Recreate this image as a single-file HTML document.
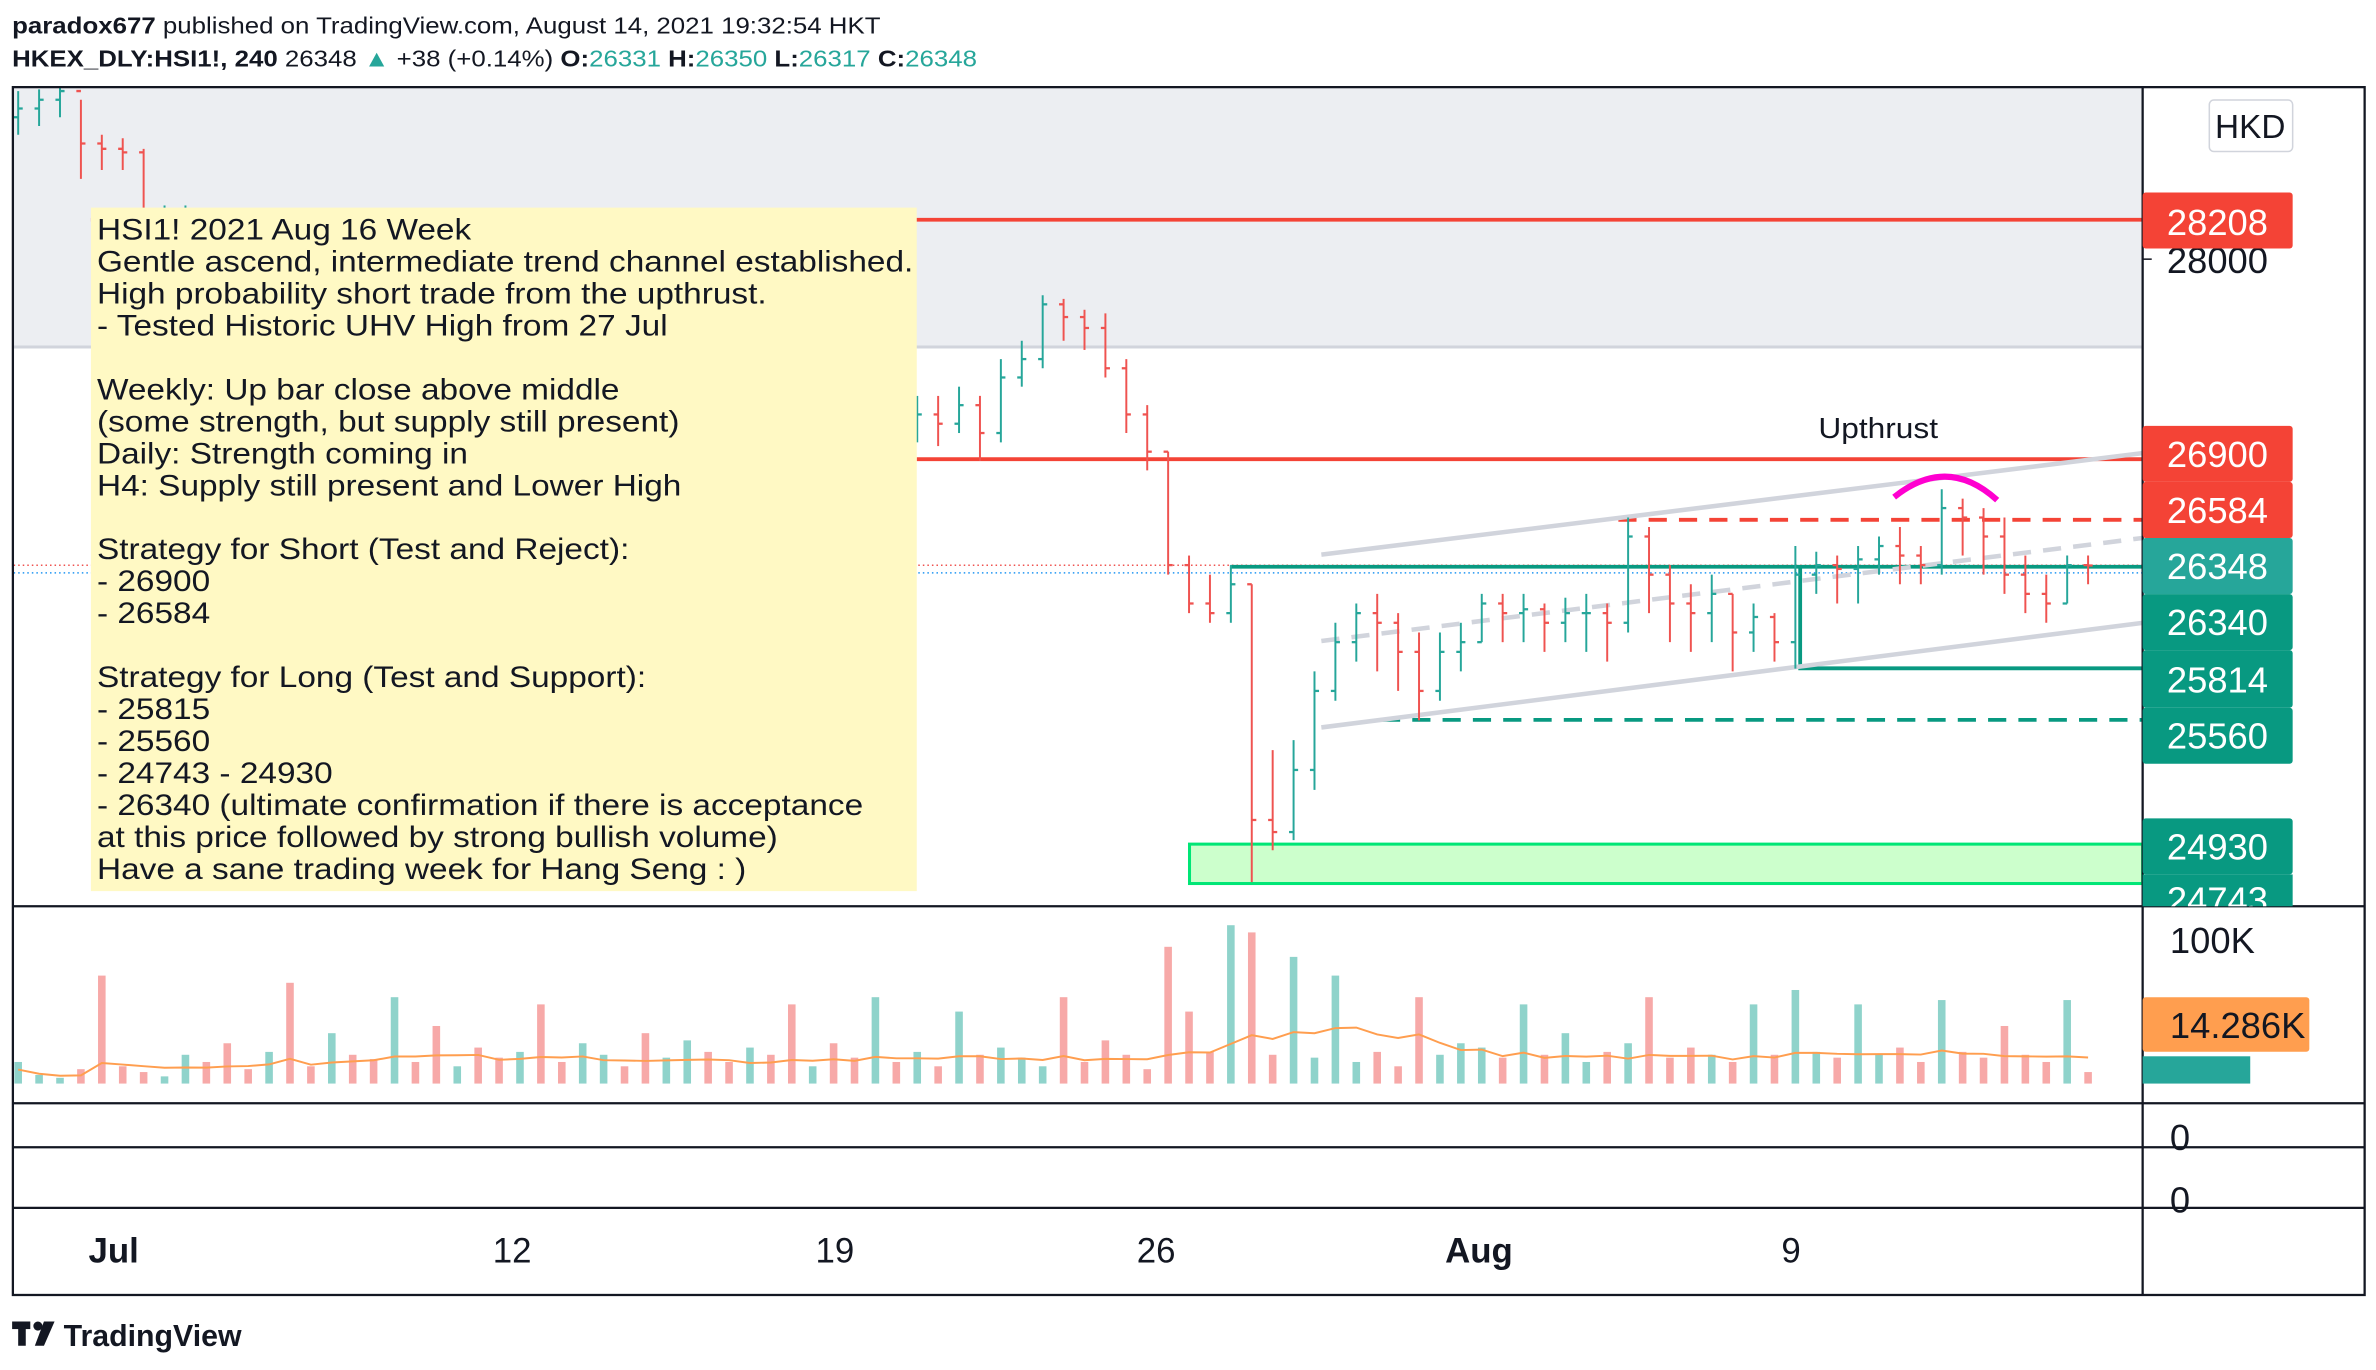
<!DOCTYPE html>
<html><head><meta charset="utf-8"><style>
html,body{margin:0;padding:0;background:#fff;}
svg{display:block;font-family:"Liberation Sans",sans-serif;}
</style></head><body>
<svg id="chart" width="2376" height="1370" viewBox="0 0 1568 904" preserveAspectRatio="none" xmlns="http://www.w3.org/2000/svg">
<rect x="0" y="0" width="1568" height="904" fill="#fff"/>
<g transform="translate(8,0) scale(1.1,1) translate(-8,0)">
<text x="8" y="22" font-size="15.5" fill="#131722"><tspan font-weight="bold">paradox677</tspan> published on TradingView.com, August 14, 2021 19:32:54 HKT</text>
<text x="8" y="44" font-size="15.5" fill="#131722"><tspan font-weight="bold">HKEX_DLY:HSI1!, 240</tspan> 26348 <tspan fill="#26a69a">▲</tspan> +38 (+0.14%) <tspan font-weight="bold">O:</tspan><tspan fill="#26a69a">26331</tspan> <tspan font-weight="bold">H:</tspan><tspan fill="#26a69a">26350</tspan> <tspan font-weight="bold">L:</tspan><tspan fill="#26a69a">26317</tspan> <tspan font-weight="bold">C:</tspan><tspan fill="#26a69a">26348</tspan></text>
</g>
<rect x="9" y="58" width="1405" height="171" fill="#eceef2"/>
<line x1="9" y1="229" x2="1414" y2="229" stroke="#d1d4dc" stroke-width="2"/>
<g id="levels">
<line x1="60" y1="145" x2="1414" y2="145" stroke="#f44336" stroke-width="2.5"/>
<line x1="605" y1="303" x2="1414" y2="303" stroke="#f44336" stroke-width="2.5"/>
<line x1="1068" y1="343" x2="1414" y2="343" stroke="#f44336" stroke-width="2.5" stroke-dasharray="12,8"/>
<line x1="9" y1="373" x2="1414" y2="373" stroke="#ef5350" stroke-width="1" stroke-dasharray="1,2"/>
<line x1="9" y1="378" x2="1414" y2="378" stroke="#2196f3" stroke-width="1" stroke-dasharray="1,2"/>
<line x1="812" y1="374" x2="1414" y2="374" stroke="#089981" stroke-width="2.5"/>
<polyline points="1188,375 1188,441 1414,441" fill="none" stroke="#089981" stroke-width="2.5"/>
<line x1="912" y1="475" x2="1414" y2="475" stroke="#089981" stroke-width="2.5" stroke-dasharray="12,8"/>
<rect x="785" y="557" width="629" height="26" fill="#ccffcc" stroke="#00e676" stroke-width="2"/>
<line x1="872" y1="366" x2="1414" y2="299" stroke="#d1d4dc" stroke-width="3"/>
<line x1="872" y1="480" x2="1414" y2="411" stroke="#d1d4dc" stroke-width="3"/>
<line x1="872" y1="423" x2="1414" y2="355" stroke="#d1d4dc" stroke-width="3" stroke-dasharray="12,8"/>
</g>
<g id="bars"></g>
<g id="vols"></g>
<path d="M1250,328 Q1285,300 1318,330" fill="none" stroke="#ff00d0" stroke-width="4"/>
<text x="1200" y="289" font-size="19" fill="#131722" transform="translate(1200,0) scale(1.1,1) translate(-1200,0)">Upthrust</text>
<g>
<rect x="60" y="137" width="545" height="451" fill="#fff9c4"/>
<g transform="translate(64,0) scale(1.13,1) translate(-64,0)">
<text x="64" y="158" font-size="19.5" fill="#131722">
<tspan x="64" dy="0">HSI1!  2021 Aug 16 Week</tspan>
<tspan x="64" dy="21.1">Gentle ascend, intermediate trend channel established.</tspan>
<tspan x="64" dy="21.1">High probability short trade from the upthrust.</tspan>
<tspan x="64" dy="21.1">- Tested Historic UHV High from 27 Jul</tspan>
<tspan x="64" dy="42.2">Weekly: Up bar close above middle</tspan>
<tspan x="64" dy="21.1">(some strength, but supply still present)</tspan>
<tspan x="64" dy="21.1">Daily: Strength coming in</tspan>
<tspan x="64" dy="21.1">H4: Supply still present and Lower High</tspan>
<tspan x="64" dy="42.2">Strategy for Short (Test and Reject):</tspan>
<tspan x="64" dy="21.1">- 26900</tspan>
<tspan x="64" dy="21.1">- 26584</tspan>
<tspan x="64" dy="42.2">Strategy for Long (Test and Support):</tspan>
<tspan x="64" dy="21.1">- 25815</tspan>
<tspan x="64" dy="21.1">- 25560</tspan>
<tspan x="64" dy="21.1">- 24743 - 24930</tspan>
<tspan x="64" dy="21.1">- 26340 (ultimate confirmation if there is acceptance</tspan>
<tspan x="64" dy="21.1">at this price followed by strong bullish volume)</tspan>
<tspan x="64" dy="21.1">Have a sane trading week for Hang Seng : )</tspan>
</text>
</g>
</g>
<g fill="none" stroke="#131722">
<rect x="8.5" y="57.5" width="1552" height="797" stroke-width="1.5"/>
<line x1="1414" y1="57" x2="1414" y2="855" stroke-width="1.5"/>
<line x1="8" y1="598" x2="1561" y2="598" stroke-width="1.5"/>
<line x1="8" y1="728" x2="1561" y2="728" stroke-width="1.5"/>
<line x1="8" y1="757" x2="1561" y2="757" stroke-width="1.5"/>
<line x1="8" y1="797" x2="1561" y2="797" stroke-width="1.5"/>
</g>
<g font-size="24" fill="#fff">
<rect x="1458" y="66" width="55" height="34" rx="3" fill="#fff" stroke="#d1d4dc"/>
<text x="1485" y="91" text-anchor="middle" fill="#131722" font-size="22">HKD</text>
<text x="1430" y="180" fill="#131722">28000</text>
<line x1="1414" y1="171" x2="1420" y2="171" stroke="#131722"/>
<rect x="1414" y="127" width="99" height="37" rx="2" fill="#f44336"/><text x="1430" y="155">28208</text>
<rect x="1414" y="281" width="99" height="37" rx="2" fill="#f44336"/><text x="1430" y="308">26900</text>
<rect x="1414" y="318" width="99" height="37" rx="2" fill="#f44336"/><text x="1430" y="345">26584</text>
<rect x="1414" y="355" width="99" height="37" rx="2" fill="#26a69a"/><text x="1430" y="382">26348</text>
<rect x="1414" y="392" width="99" height="37" rx="2" fill="#089981"/><text x="1430" y="419">26340</text>
<rect x="1414" y="429" width="99" height="38" rx="2" fill="#089981"/><text x="1430" y="457">25814</text>
<rect x="1414" y="467" width="99" height="37" rx="2" fill="#089981"/><text x="1430" y="494">25560</text>
<rect x="1414" y="540" width="99" height="37" rx="2" fill="#089981"/><text x="1430" y="567">24930</text>
<rect x="1414" y="577" width="99" height="21" fill="#089981"/><text x="1430" y="602" clip-path="url(#clipA)">24743</text>
<text x="1432" y="629" fill="#131722">100K</text>
<rect x="1414" y="658" width="110" height="36" rx="2" fill="#ff9e4f"/><text x="1432" y="685" fill="#131722">14.286K</text>
<rect x="1414" y="697" width="71" height="18" fill="#26a69a"/>
<text x="1432" y="759" fill="#131722">0</text>
<text x="1432" y="800" fill="#131722">0</text>
</g>
<defs><clipPath id="clipA"><rect x="1414" y="577" width="100" height="21"/></clipPath></defs>
<g font-size="23" fill="#131722" text-anchor="middle">
<text x="75" y="833" font-weight="bold">Jul</text>
<text x="338" y="833">12</text>
<text x="551" y="833">19</text>
<text x="763" y="833">26</text>
<text x="976" y="833" font-weight="bold">Aug</text>
<text x="1182" y="833">9</text>
</g>
<g>
<rect x="8" y="872" width="12" height="5" fill="#131722"/><rect x="12" y="872" width="5" height="16" fill="#131722"/>
<circle cx="25" cy="875" r="3" fill="#131722"/><polygon points="29,872 36,872 29,888 23,888" fill="#131722"/>
<text x="42" y="888" font-size="20" font-weight="bold" fill="#131722">TradingView</text>
</g>
</svg>
<script>
const highs = [28950,28960,28980,28900,28700,28680,28620,28300,28300,
28250,28100,28000,28050,28000,27800,27750,27700,27550,27500,27450,27400,27400,27300,27200,27200,27150,27150,27250,27350,27250,27200,27300,27400,27350,27300,27300,
27250,27250,27300,27300,27250,27250,27200,27250,27250,27300,27250,
27450,27550,27800,27780,27720,27700,27450,27200,26950,26400,26300,26350,
26250,25400,25450,25800,26050,26150,26200,26100,26000,26000,26050,
26200,26200,26200,26150,26180,26200,26150,26600,26550,26350,26250,26300,26200,26150,26100,
26450,26420,26400,26450,26500,26550,26450,26750,26700,26650,26600,26400,26300,26400,26400];
const lows = [28700,28750,28800,28450,28500,28500,28000,28050,28100,
27850,27700,27600,27700,27550,27450,27500,27300,27150,27200,27150,27050,27100,27000,26900,26950,26900,26850,26950,27000,27050,26950,27000,27100,27100,27000,27050,
27000,26950,27050,27050,26950,27000,26950,27000,26980,27050,26900,
27000,27300,27400,27550,27500,27350,27050,26850,26300,26100,26050,26050,
24743,24900,24950,25200,25650,25850,25800,25700,25550,25650,25800,
25950,25950,25950,25900,25950,25900,25850,26000,26100,25950,25900,25950,25800,25900,25850,
25814,26200,26150,26150,26300,26250,26250,26300,26400,26300,26200,26100,26050,26150,26250];
const closes = [28850,28900,28950,28650,28620,28600,28150,28180,28250,
28100,27900,27800,27950,27700,27600,27650,27500,27300,27400,27350,27200,27300,27150,27000,27100,27050,26950,27100,27200,27150,27050,27200,27300,27250,27100,27200,
27150,27100,27250,27200,27100,27150,27050,27150,27100,27200,27050,
27350,27450,27750,27680,27620,27400,27150,26950,26350,26150,26100,26250,
25050,24990,25300,25700,25950,26100,26050,25900,25700,25900,25950,
26150,26100,26120,26050,26100,26100,26050,26500,26300,26150,26100,26200,26000,26080,25950,
26300,26350,26330,26380,26450,26400,26350,26650,26600,26500,26300,26200,26150,26350,26348];
const volumes = [15,6,4,10,75,12,8,5,20,
15,28,10,22,70,12,35,20,17,60,15,40,12,25,18,22,55,15,28,20,12,35,18,30,22,15,25,
20,55,12,28,18,60,15,22,12,50,20,
25,18,12,60,15,30,20,10,95,50,22,110,
105,20,88,18,75,15,22,12,60,20,28,
25,18,55,20,35,15,22,28,60,18,25,20,15,55,20,
65,22,18,55,20,25,15,58,22,18,40,20,15,58,8];
const firstOpen = 28800;

const NS = 'http://www.w3.org/2000/svg';
function xOf(i){ return 12 + i * (1366 / (closes.length - 1)); }
function yOf(p){ return 171 + 3324 * Math.log(28000 / p); }
function vY(v){ return 715 - v * 0.95; }
const barsG = document.getElementById('bars');
const volG = document.getElementById('vols');
const clip = document.createElementNS(NS,'clipPath'); clip.setAttribute('id','pc');
const cr = document.createElementNS(NS,'rect'); cr.setAttribute('x',9); cr.setAttribute('y',58); cr.setAttribute('width',1405); cr.setAttribute('height',540);
clip.appendChild(cr); document.querySelector('defs').appendChild(clip);
barsG.setAttribute('clip-path','url(#pc)');
for (let i = 0; i < closes.length; i++) {
  const o = i === 0 ? firstOpen : closes[i-1];
  const c = closes[i];
  const up = c >= o;
  const col = up ? '#26a69a' : '#ef5350';
  const x = xOf(i);
  const g = document.createElementNS(NS,'g');
  
  
  const l = document.createElementNS(NS,'line');
  l.setAttribute('x1',x); l.setAttribute('x2',x);
  l.setAttribute('y1',yOf(highs[i])); l.setAttribute('y2',yOf(lows[i]));
  l.setAttribute('stroke',col); l.setAttribute('stroke-width',1.3);
  g.appendChild(l);
  const lo = document.createElementNS(NS,'line');
  lo.setAttribute('x1',x-3); lo.setAttribute('x2',x); lo.setAttribute('y1',yOf(o)); lo.setAttribute('y2',yOf(o));
  lo.setAttribute('stroke',col); lo.setAttribute('stroke-width',1.5); g.appendChild(lo);
  const lc = document.createElementNS(NS,'line');
  lc.setAttribute('x1',x); lc.setAttribute('x2',x+3); lc.setAttribute('y1',yOf(c)); lc.setAttribute('y2',yOf(c));
  lc.setAttribute('stroke',col); lc.setAttribute('stroke-width',1.5); g.appendChild(lc);
  barsG.appendChild(g);
  const vb = document.createElementNS(NS,'rect');
  
  
  vb.setAttribute('x', x-2.5); vb.setAttribute('width', 5);
  vb.setAttribute('y', vY(volumes[i])); vb.setAttribute('height', 715 - vY(volumes[i]));
  vb.setAttribute('fill', up ? '#8fd3cb' : '#f7a9a8');
  volG.appendChild(vb);
}
let pts = [];
for (let i = 0; i < volumes.length; i++) {
  const s = volumes.slice(Math.max(0,i-9), i+1);
  const m = s.reduce((a,b)=>a+b,0)/s.length;
  pts.push(xOf(i)+','+vY(m*0.65));
}
const ma = document.createElementNS(NS,'polyline');


ma.setAttribute('points', pts.join(' '));
ma.setAttribute('fill','none'); ma.setAttribute('stroke','#ff9e4f'); ma.setAttribute('stroke-width',1.3);
volG.appendChild(ma);
</script>
</body></html>
